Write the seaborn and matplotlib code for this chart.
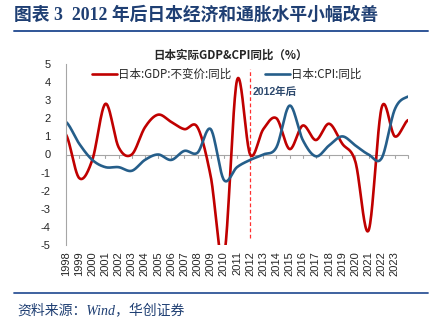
import numpy as np
import pandas as pd
import matplotlib
matplotlib.use("Agg")
import matplotlib.pyplot as plt
import seaborn as sns

# ---- data (annual) ----
positions = list(range(27))
gdp = [1.1, -1.3, -0.3, 2.8, 0.4, 0.0, 1.5, 2.2, 1.8, 1.4, 1.5, -1.2, -5.7, 4.1,
       0.0, 1.4, 2.0, 0.3, 1.6, 0.8, 1.7, 0.6, -0.4, -4.2, 2.6, 1.0, 1.9]
cpi = [1.8, 0.6, -0.3, -0.7, -0.7, -0.9, -0.3, 0.0, -0.3, 0.2, 0.1, 1.4, -1.4, -0.7,
       -0.3, 0.0, 0.4, 2.7, 0.8, -0.1, 0.5, 1.0, 0.5, 0.0, -0.2, 2.5, 3.2]
tick_labels = [str(y) for y in range(1998, 2024)]
marker_pos = 14
marker_span = [-4.6, 4.7]

RED = "#C00000"
BLUE = "#255E8A"
NAVY = "#1F3F73"
NUM = ['Liberation Sans', 'Noto Sans CJK SC']
SERIF = ['Liberation Serif', 'Noto Sans CJK SC']


def smooth(xs, ys, n=24):
    """Catmull-Rom style smoothing (like Excel's smoothed line) for drawing."""
    xs = np.asarray(xs, float)
    ys = np.asarray(ys, float)
    px = np.concatenate([[2 * xs[0] - xs[1]], xs, [2 * xs[-1] - xs[-2]]])
    py = np.concatenate([[ys[0]], ys, [ys[-1]]])
    ox, oy = [], []
    for i in range(1, len(px) - 2):
        p0, p1, p2, p3 = (np.array([px[j], py[j]]) for j in (i - 1, i, i + 1, i + 2))
        c1 = p1 + (p2 - p0) / 6.0
        c2 = p2 - (p3 - p1) / 6.0
        t = np.linspace(0, 1, n, endpoint=False)[:, None]
        b = ((1 - t) ** 3) * p1 + 3 * ((1 - t) ** 2) * t * c1 + 3 * (1 - t) * t ** 2 * c2 + t ** 3 * p2
        ox.extend(b[:, 0]); oy.extend(b[:, 1])
    ox.append(xs[-1]); oy.append(ys[-1])
    return np.array(ox), np.array(oy)


sns.set_style("white")
plt.rcParams['font.family'] = ['Noto Sans CJK SC', 'DejaVu Sans']
plt.rcParams['axes.unicode_minus'] = False

fig = plt.figure(figsize=(4.43, 3.24), dpi=100)
ax = fig.add_axes([66 / 443, 1 - 245 / 324, 342 / 443, 181 / 324])

gx, gy = smooth(positions, gdp)
cx, cy = smooth(positions, cpi)
df = pd.concat([
    pd.DataFrame({"x": gx, "y": gy, "s": "日本:GDP:不变价:同比"}),
    pd.DataFrame({"x": cx, "y": cy, "s": "日本:CPI:同比"}),
])
sns.lineplot(data=df, x="x", y="y", hue="s", palette=[RED, BLUE], ax=ax,
             linewidth=1.9, sort=False, estimator=None, legend=False)

ax.plot([marker_pos, marker_pos], marker_span, color="#FF3030", lw=0.9,
        ls=(0, (3, 2)), zorder=1)
ax.text(marker_pos + 0.15, 3.45, "2012年后", color="#2E4A6E", fontsize=7.6,
        fontweight="bold", ha="left", va="center", family=NUM)

ax.set_xlim(0, 26)
ax.set_ylim(-5, 5)
ax.set_yticks(range(-5, 6))
ax.set_yticklabels([str(v) for v in range(-5, 6)], family=NUM)
ax.set_xticks([])
ax.set_xlabel(""); ax.set_ylabel("")
for s in ["top", "right", "bottom"]:
    ax.spines[s].set_visible(False)
ax.spines["left"].set_color("#A6A6A6")
ax.spines["left"].set_linewidth(0.8)
ax.tick_params(axis="y", length=3, color="#A6A6A6", width=0.8, pad=8, labelsize=8)

# zero axis with ticks
ax.axhline(0, color="#A6A6A6", lw=0.8, zorder=0)
for k in range(27):
    ax.plot([k, k], [0, -0.18], color="#A6A6A6", lw=0.8, zorder=0, clip_on=False)
for k, lab in enumerate(tick_labels):
    ax.text(k, -5.35, lab, rotation=90, ha="center", va="top", fontsize=8,
            family=NUM, clip_on=False)

# legend
fig.lines.append(plt.Line2D([92 / 443, 117 / 443], [1 - 74 / 324] * 2, color=RED, lw=1.9,
                            transform=fig.transFigure))
fig.text(118 / 443, 1 - 74 / 324, "日本:GDP:不变价:同比", fontsize=8.3, va="center", ha="left")
fig.lines.append(plt.Line2D([265 / 443, 290 / 443], [1 - 74 / 324] * 2, color=BLUE, lw=1.9,
                            transform=fig.transFigure))
fig.text(291 / 443, 1 - 74 / 324, "日本:CPI:同比", fontsize=8.3, va="center", ha="left")

# chart title
fig.text(230 / 443, 1 - 55 / 324, "日本实际GDP&CPI同比（%）", fontsize=8.3,
         fontweight="bold", ha="center", va="center")

# header
fig.text(14 / 443, 1 - 15 / 324, "图表 3  2012 年后日本经济和通胀水平小幅改善", fontsize=12.8,
         fontweight="bold", color=NAVY, ha="left", va="center", family=SERIF)
fig.lines.append(plt.Line2D([14 / 443, 428 / 443], [1 - 31 / 324] * 2, color="#2F5597", lw=1.4,
                            transform=fig.transFigure))
fig.lines.append(plt.Line2D([14 / 443, 428 / 443], [1 - 293 / 324] * 2, color="#2F5597", lw=1.3,
                            transform=fig.transFigure))
fig.text(17 / 443, 1 - 310 / 324, "资料来源：Wind，华创证券", fontsize=10, style="italic",
         color=NAVY, ha="left", va="center", family=SERIF)

fig.savefig("out.png", dpi=100)
